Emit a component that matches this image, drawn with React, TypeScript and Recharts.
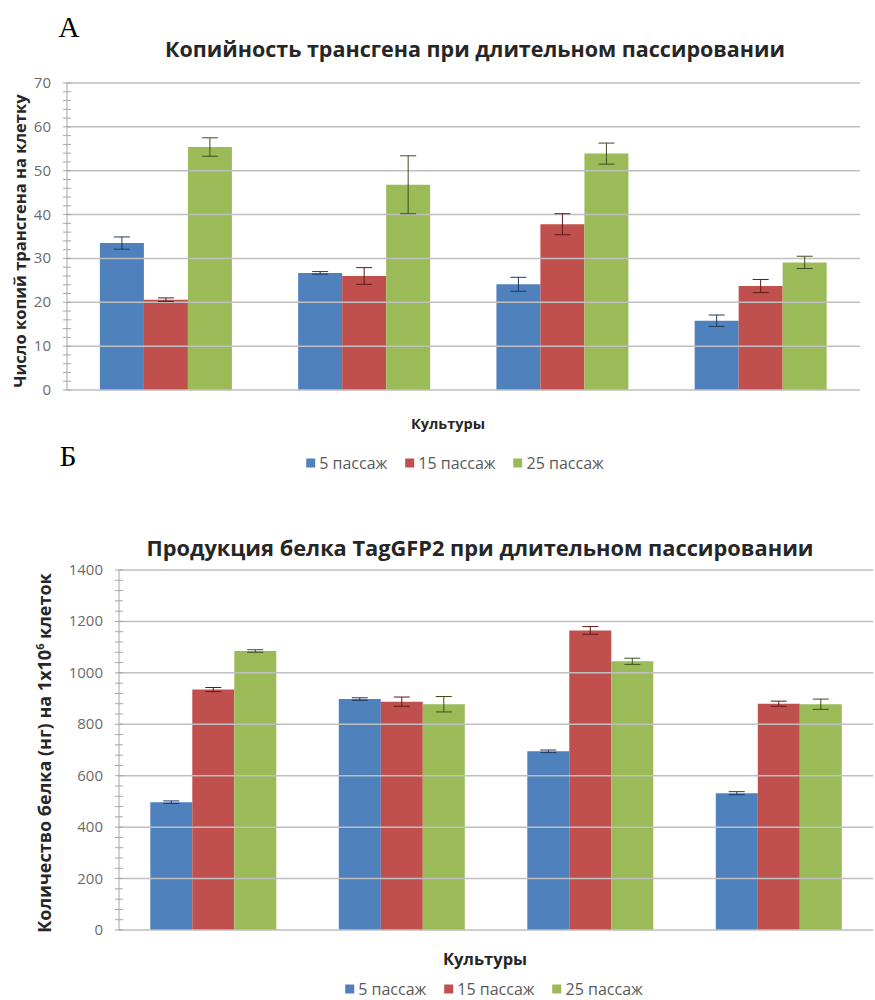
import React from "react";
import { BarChart, Bar, XAxis, YAxis, ErrorBar, ReferenceLine } from "recharts";

// Культуры (подписи на оси не показаны)
const categories = ["1", "2", "3", "4"];
const seriesNames = ["5 пассаж", "15 пассаж", "25 пассаж"];

// А: копийность трансгена
const copies5 = [33.5, 26.7, 24.1, 15.8];
const copies5Err = [1.4, 0.3, 1.6, 1.3];
const copies15 = [20.6, 26.0, 37.8, 23.7];
const copies15Err = [0.4, 1.9, 2.4, 1.5];
const copies25 = [55.4, 46.8, 53.9, 29.1];
const copies25Err = [2.1, 6.6, 2.4, 1.4];
const copiesMajor = [0, 10, 20, 30, 40, 50, 60, 70];
const copiesTicks = [0, 2, 4, 6, 8, 10, 12, 14, 16, 18, 20, 22, 24, 26, 28, 30, 32, 34, 36, 38, 40, 42, 44, 46, 48, 50, 52, 54, 56, 58, 60, 62, 64, 66, 68, 70];

// Б: продукция белка TagGFP2
const protein5 = [497, 898, 695, 532];
const protein5Err = [5, 5, 5, 6];
const protein15 = [935, 888, 1165, 880];
const protein15Err = [8, 18, 15, 10];
const protein25 = [1085, 878, 1045, 878];
const protein25Err = [5, 30, 12, 20];
const proteinMajor = [0, 200, 400, 600, 800, 1000, 1200, 1400];
const proteinTicks = [0, 40, 80, 120, 160, 200, 240, 280, 320, 360, 400, 440, 480, 520, 560, 600, 640, 680, 720, 760, 800, 840, 880, 920, 960, 1000, 1040, 1080, 1120, 1160, 1200, 1240, 1280, 1320, 1360, 1400];

const colors = ["#4F81BD", "#C0504D", "#9BBB59"];
const errColors = ["#1F3A60", "#5E1A18", "#3D4F1E"];
const font = "'Open Sans', 'Noto Sans', sans-serif";

const copyData = categories.map((c, i) => ({
  name: c,
  s5: copies5[i], e5: copies5Err[i],
  s15: copies15[i], e15: copies15Err[i],
  s25: copies25[i], e25: copies25Err[i],
}));

const proteinData = categories.map((c, i) => ({
  name: c,
  s5: protein5[i], e5: protein5Err[i],
  s15: protein15[i], e15: protein15Err[i],
  s25: protein25[i], e25: protein25Err[i],
}));

const GAP = 16;

function makeTick(step: number) {
  return (props: any) => {
    const { x, y, payload } = props;
    const axisX = x + GAP;
    const major = payload.value % step === 0;
    return (
      <g>
        <line x1={axisX - 4} x2={axisX + 4} y1={y} y2={y} stroke="#A6A6A6" strokeWidth={1} />
        {major && (
          <text x={x} y={y} dy={5} textAnchor="end" fill="#6B6B6B" fontSize={15} fontFamily={font}>
            {payload.value}
          </text>
        )}
      </g>
    );
  };
}

function Legend({ left, top }: { left: number; top: number }) {
  return (
    <div style={{ position: "absolute", left, top, transform: "translate(-50%, -50%)", display: "flex", gap: 18, whiteSpace: "nowrap", fontFamily: font, fontSize: 16, lineHeight: "17px", color: "#595959" }}>
      {seriesNames.map((n, i) => (
        <span key={n} style={{ display: "flex", alignItems: "center", gap: 4 }}>
          <span style={{ width: 9, height: 9, background: colors[i], display: "inline-block" }} />
          {n}
        </span>
      ))}
    </div>
  );
}

const abs = (left: number, top: number, extra: React.CSSProperties = {}): React.CSSProperties => ({
  position: "absolute", left, top, transform: "translate(-50%, -50%)", whiteSpace: "nowrap", ...extra,
});

function renderBars() {
  return ["s5", "s15", "s25"].map((k, i) => (
    <Bar key={k} dataKey={k} fill={colors[i]} isAnimationActive={false}>
      <ErrorBar dataKey={"e" + k.slice(1)} width={8} stroke={errColors[i]} strokeWidth={1} direction="y" />
    </Bar>
  ));
}

export default function App() {
  return (
    <div style={{ position: "absolute", left: 0, top: 0, width: 875, height: 1000, background: "#fff", overflow: "hidden" }}>
      <div style={abs(69, 27, { fontFamily: "'Liberation Serif', serif", fontSize: 29 })}>А</div>
      <div style={abs(475, 48, { fontFamily: font, fontSize: 21.5, fontWeight: 700, color: "#262626" })}>
        Копийность трансгена при длительном пассировании
      </div>
      <div style={abs(19, 241, { fontFamily: font, fontSize: 16.5, fontWeight: 700, color: "#262626", transform: "translate(-50%, -50%) rotate(-90deg)" })}>
        Число копий трансгена на клетку
      </div>
      <div style={{ position: "absolute", left: 0, top: 0 }}>
        <BarChart width={875} height={400} data={copyData} margin={{ top: 83, right: 15, left: 0, bottom: 10 }} barCategoryGap="16.6%" barGap={0}>
          {copiesMajor.map((v) => (
            <ReferenceLine key={v} y={v} stroke="#BFBFBF" strokeWidth={1.5} />
          ))}
          <XAxis dataKey="name" height={0} tick={false} tickLine={false} axisLine={false} />
          <YAxis width={67} domain={[0, 70]} ticks={copiesTicks} interval={0} tickSize={0} tickMargin={GAP} tickLine={false} axisLine={{ stroke: "#A6A6A6" }} tick={makeTick(10)} />
          {renderBars()}
        </BarChart>
      </div>
      <div style={abs(448, 423, { fontFamily: font, fontSize: 14.5, fontWeight: 700, color: "#262626" })}>Культуры</div>
      <Legend left={455} top={463} />
      <div style={abs(68, 456, { fontFamily: "'Liberation Serif', serif", fontSize: 29 })}>Б</div>

      <div style={abs(480, 547, { fontFamily: font, fontSize: 21.8, fontWeight: 700, color: "#262626" })}>
        Продукция белка TagGFP2 при длительном пассировании
      </div>
      <div style={abs(44, 753, { fontFamily: font, fontSize: 18, fontWeight: 700, color: "#262626", transform: "translate(-50%, -50%) rotate(-90deg)" })}>
        Количество белка (нг) на 1x10<sup style={{ fontSize: 11 }}>6</sup> клеток
      </div>
      <div style={{ position: "absolute", left: 0, top: 500 }}>
        <BarChart width={875} height={440} data={proteinData} margin={{ top: 70, right: 2, left: 0, bottom: 10 }} barCategoryGap="16.6%" barGap={0}>
          {proteinMajor.map((v) => (
            <ReferenceLine key={v} y={v} stroke="#BFBFBF" strokeWidth={1.5} />
          ))}
          <XAxis dataKey="name" height={0} tick={false} tickLine={false} axisLine={false} />
          <YAxis width={119} domain={[0, 1400]} ticks={proteinTicks} interval={0} tickSize={0} tickMargin={GAP} tickLine={false} axisLine={{ stroke: "#A6A6A6" }} tick={makeTick(200)} />
          {renderBars()}
        </BarChart>
      </div>
      <div style={abs(485, 958, { fontFamily: font, fontSize: 16.5, fontWeight: 700, color: "#262626" })}>Культуры</div>
      <Legend left={494} top={989} />
    </div>
  );
}
